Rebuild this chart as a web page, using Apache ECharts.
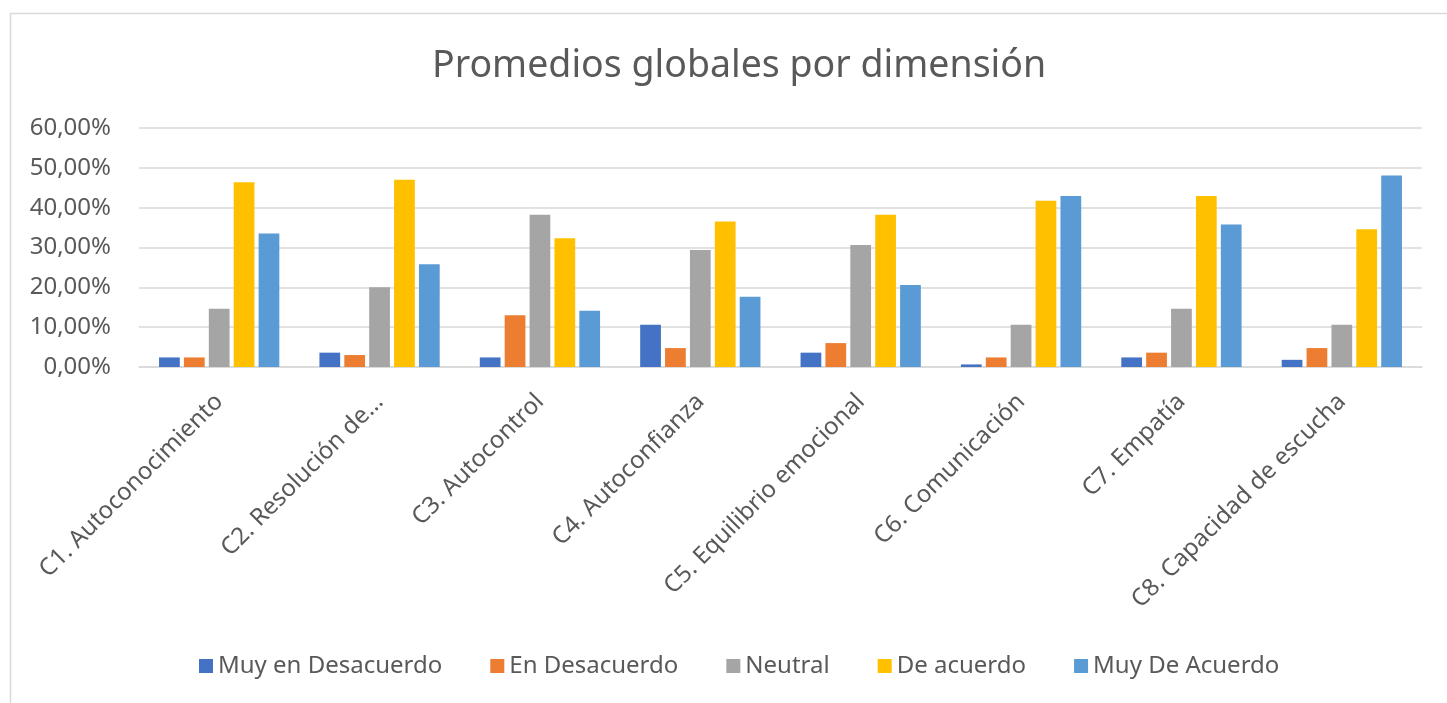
<!DOCTYPE html>
<html>
<head>
<meta charset="utf-8">
<script src="https://cdn.jsdelivr.net/npm/echarts@6/dist/echarts.min.js"></script>
<style>
html,body{margin:0;padding:0;background:#fff;}
#chart{width:1447px;height:703px;}
</style>
</head>
<body>
<div id="chart"></div>
<script>
var categories = ["C1. Autoconocimiento","C2. Resolución de...","C3. Autocontrol","C4. Autoconfianza","C5. Equilibrio emocional","C6. Comunicación","C7. Empatía","C8. Capacidad de escucha"];
var seriesNames = ["Muy en Desacuerdo","En Desacuerdo","Neutral","De acuerdo","Muy De Acuerdo"];
var muyDesacuerdo = [2.4, 3.6, 2.4, 10.6, 3.6, 0.65, 2.4, 1.8];
var enDesacuerdo  = [2.4, 3.0, 13.0, 4.75, 6.0, 2.4, 3.6, 4.75];
var neutral       = [14.65, 20.0, 38.25, 29.4, 30.6, 10.6, 14.65, 10.6];
var deAcuerdo     = [46.4, 47.0, 32.3, 36.5, 38.25, 41.75, 42.9, 34.6];
var muyDeAcuerdo  = [33.5, 25.8, 14.15, 17.65, 20.6, 42.9, 35.8, 48.1];
var yTicks = [0, 10, 20, 30, 40, 50, 60];
var colors = ["#4472C4","#ED7D31","#A5A5A5","#FFC000","#5B9BD5"];
var values = [muyDesacuerdo, enDesacuerdo, neutral, deAcuerdo, muyDeAcuerdo];

var FONT = "Noto Sans";
var chart = echarts.init(document.getElementById('chart'));
var series = seriesNames.map(function(n, i){
  return {
    name: n, type: 'bar', data: values[i],
    barGap: '20%', barCategoryGap: '25%',
    itemStyle: {color: colors[i]}
  };
});
chart.setOption({
  animation: false,
  color: colors,
  textStyle: {fontFamily: FONT},
  graphic: [{
    type: 'rect', left: 8, top: 11, z: -1,
    shape: {width: 1470, height: 720},
    style: {fill: 'none', stroke: '#D9D9D9', lineWidth: 1.5}
  }],
  title: {
    text: 'Promedios globales por dimensión',
    left: 427, top: 42,
    textStyle: {fontFamily: FONT, fontSize: 37.5, fontWeight: 'normal', color: '#595959'}
  },
  legend: {
    bottom: 20, left: 194,
    itemWidth: 14, itemHeight: 14, itemGap: 48, icon: 'rect',
    textStyle: {fontFamily: FONT, fontSize: 24, color: '#595959'},
    data: seriesNames
  },
  grid: {left: 139, right: 25, top: 128, bottom: 336, containLabel: false},
  xAxis: {
    type: 'category', data: categories,
    axisLine: {show: true, lineStyle: {color: '#D9D9D9', width: 1.5}},
    axisTick: {show: false},
    axisLabel: {rotate: 45, interval: 0, margin: 31, fontFamily: FONT, fontSize: 24, color: '#595959'}
  },
  yAxis: {
    type: 'value', min: 0, max: 60, interval: 10,
    axisLine: {show: false}, axisTick: {show: false},
    splitLine: {lineStyle: {color: '#D9D9D9', width: 1.5}},
    axisLabel: {margin: 28, fontFamily: FONT, fontSize: 24, color: '#595959',
      formatter: function(v){ return yTicks.indexOf(v) >= 0 ? v.toFixed(2).replace('.', ',') + '%' : ''; }}
  },
  series: series
});
</script>
</body>
</html>
